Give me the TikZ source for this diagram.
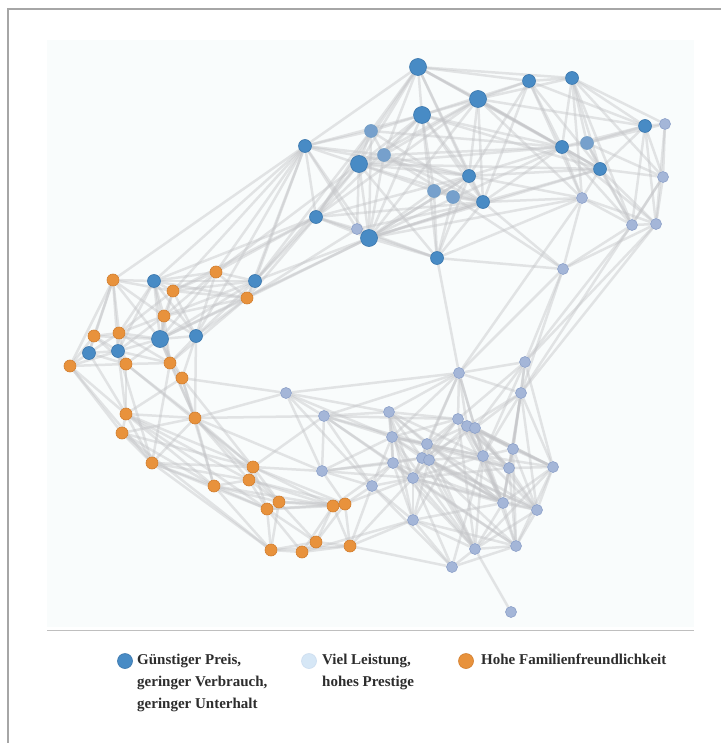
\documentclass[tikz,border=0pt]{standalone}
\usepackage{fontspec}
\setmainfont{Liberation Serif}
\pgfdeclarelayer{bg}
\pgfdeclarelayer{edges}
\pgfsetlayers{bg,edges,main}
\definecolor{cheap}{RGB}{72,139,197}
\definecolor{cheapdark}{RGB}{58,118,172}
\definecolor{mixed}{RGB}{118,160,204}
\definecolor{power}{RGB}{164,182,216}
\definecolor{powerdark}{RGB}{140,160,200}
\definecolor{powerpale}{RGB}{214,231,246}
\definecolor{family}{RGB}{232,146,60}
\definecolor{familydark}{RGB}{210,125,45}
\definecolor{linkgray}{RGB}{196,197,200}
\definecolor{canvas}{RGB}{249,252,252}
\definecolor{legendtext}{RGB}{45,45,45}

\begin{document}
\begin{tikzpicture}[x=1pt, y=-1pt,
  dot/.style={circle, inner sep=0pt, minimum size=13pt, line width=0.6pt},
  cheapdot/.style={dot, fill=cheap, draw=cheapdark},
  mixdot/.style={dot, fill=mixed, draw=cheapdark!70},
  powerdot/.style={dot, fill=power, draw=powerdark, minimum size=11pt},
  familydot/.style={dot, fill=family, draw=familydark, minimum size=12pt},
  bigdot/.style={minimum size=17pt},
  link/.style={draw=linkgray, line width=2.5pt, opacity=0.45},
  legtext/.style={anchor=north west, align=left, inner sep=0pt, text=legendtext,
    font=\fontsize{15}{22}\selectfont\bfseries}]
\useasboundingbox (0,0) rectangle (721,743);
\begin{pgfonlayer}{bg}
\fill[white] (0,0) rectangle (721,743);
\draw[black!35, line width=1.5pt] (721,9) -- (8,9) -- (8,743); % outer frame
\fill[canvas] (47,40) rectangle (694,627);
\draw[black!25, line width=1pt] (47,630) -- (694,630);
\end{pgfonlayer}

% top cluster
\node[cheapdot, bigdot] (t1) at (418,67) {};
\node[cheapdot] (t2) at (529,81) {};
\node[cheapdot] (t3) at (572,78) {};
\node[cheapdot, bigdot] (t4) at (478,99) {};
\node[cheapdot, bigdot] (t5) at (422,115) {};
\node[mixdot] (t6) at (371,131) {};
\node[cheapdot] (t7) at (305,146) {};
\node[cheapdot, bigdot] (t8) at (359,164) {};
\node[mixdot] (t9) at (384,155) {};
\node[cheapdot] (t10) at (469,176) {};
\node[mixdot] (t11) at (434,191) {};
\node[mixdot] (t12) at (453,197) {};
\node[cheapdot] (t13) at (483,202) {};
\node[cheapdot] (t14) at (316,217) {};
\node[powerdot] (t15) at (357,229) {};
\node[cheapdot, bigdot] (t16) at (369,238) {};
\node[cheapdot] (t17) at (437,258) {};
\node[cheapdot] (t18) at (645,126) {};
\node[powerdot] (t19) at (665,124) {};
\node[cheapdot] (t20) at (562,147) {};
\node[mixdot] (t21) at (587,143) {};
\node[cheapdot] (t22) at (600,169) {};
\node[powerdot] (t23) at (663,177) {};
\node[powerdot] (t24) at (582,198) {};
\node[powerdot] (t25) at (632,225) {};
\node[powerdot] (t26) at (656,224) {};
\node[powerdot] (t27) at (563,269) {};

% left cluster
\node[familydot] (l1) at (113,280) {};
\node[cheapdot] (l2) at (154,281) {};
\node[familydot] (l3) at (216,272) {};
\node[cheapdot] (l4) at (255,281) {};
\node[familydot] (l5) at (173,291) {};
\node[familydot] (l6) at (247,298) {};
\node[familydot] (l7) at (164,316) {};
\node[familydot] (l8) at (94,336) {};
\node[familydot] (l9) at (119,333) {};
\node[cheapdot, bigdot] (l10) at (160,339) {};
\node[cheapdot] (l11) at (196,336) {};
\node[cheapdot] (l12) at (89,353) {};
\node[cheapdot] (l13) at (118,351) {};
\node[familydot] (l14) at (70,366) {};
\node[familydot] (l15) at (126,364) {};
\node[familydot] (l16) at (170,363) {};
\node[familydot] (l17) at (182,378) {};

% bottom left, orange
\node[familydot] (o1) at (126,414) {};
\node[familydot] (o2) at (195,418) {};
\node[familydot] (o3) at (122,433) {};
\node[familydot] (o4) at (152,463) {};
\node[familydot] (o5) at (253,467) {};
\node[familydot] (o6) at (249,480) {};
\node[familydot] (o7) at (214,486) {};
\node[familydot] (o8) at (279,502) {};
\node[familydot] (o9) at (267,509) {};
\node[familydot] (o10) at (333,506) {};
\node[familydot] (o11) at (345,504) {};
\node[familydot] (o12) at (271,550) {};
\node[familydot] (o13) at (302,552) {};
\node[familydot] (o14) at (316,542) {};
\node[familydot] (o15) at (350,546) {};

% bottom right
\node[powerdot] (r1) at (286,393) {};
\node[powerdot] (r2) at (324,416) {};
\node[powerdot] (r3) at (322,471) {};
\node[powerdot] (r4) at (372,486) {};
\node[powerdot] (r5) at (459,373) {};
\node[powerdot] (r6) at (525,362) {};
\node[powerdot] (r7) at (521,393) {};
\node[powerdot] (r8) at (389,412) {};
\node[powerdot] (r9) at (458,419) {};
\node[powerdot] (r10) at (467,426) {};
\node[powerdot] (r11) at (475,428) {};
\node[powerdot] (r12) at (392,437) {};
\node[powerdot] (r13) at (427,444) {};
\node[powerdot] (r14) at (422,458) {};
\node[powerdot] (r15) at (429,460) {};
\node[powerdot] (r16) at (483,456) {};
\node[powerdot] (r17) at (513,449) {};
\node[powerdot] (r18) at (509,468) {};
\node[powerdot] (r19) at (393,463) {};
\node[powerdot] (r20) at (413,478) {};
\node[powerdot] (r21) at (553,467) {};
\node[powerdot] (r22) at (503,503) {};
\node[powerdot] (r23) at (537,510) {};
\node[powerdot] (r24) at (413,520) {};
\node[powerdot] (r25) at (475,549) {};
\node[powerdot] (r26) at (516,546) {};
\node[powerdot] (r27) at (452,567) {};
\node[powerdot] (r28) at (511,612) {};

\begin{pgfonlayer}{edges}
% top cluster links
\foreach \a/\b in {t1/t2, t1/t3, t1/t5, t1/t4, t1/t7, t1/t6, t1/t8, t1/t9, t1/t10, t1/t13, t1/t14,
  t2/t3, t2/t4, t2/t5, t2/t20, t2/t18, t2/t10, t2/t13, t2/t22,
  t3/t18, t3/t20, t3/t21, t3/t22, t3/t4, t3/t24, t3/t19,
  t4/t5, t4/t8, t4/t9, t4/t10, t4/t13, t4/t20, t4/t18, t4/t16, t4/t14,
  t5/t6, t5/t7, t5/t8, t5/t9, t5/t10, t5/t11, t5/t13, t5/t16, t5/t17, t5/t14,
  t6/t7, t6/t8, t6/t9, t6/t16, t6/t14, t6/t13,
  t7/t8, t7/t14, t7/t16, t7/t9, t7/t15,
  t8/t9, t8/t10, t8/t13, t8/t14, t8/t16, t8/t17, t8/t11, t8/t15,
  t9/t10, t9/t16, t9/t12,
  t10/t13, t10/t11, t10/t12, t10/t17, t10/t20, t10/t16, t10/t22,
  t11/t12, t11/t17, t11/t13, t11/t16, t12/t13, t12/t17,
  t13/t17, t13/t16, t13/t20, t13/t22, t13/t24,
  t14/t15, t14/t16, t14/t17, t15/t16, t15/t17, t16/t17, t16/t20, t16/t22,
  t17/t27, t18/t19, t18/t20, t18/t21, t18/t22, t18/t23, t18/t25, t18/t26,
  t19/t23, t19/t26, t19/t21, t20/t21, t20/t22, t20/t24, t20/t25,
  t21/t22, t21/t23, t22/t23, t22/t24, t22/t25, t22/t26,
  t23/t25, t23/t26, t24/t25, t24/t27, t24/t26, t25/t26, t25/t27, t26/t27,
  t1/t20, t1/t22, t5/t20, t5/t22, t4/t22, t4/t24, t8/t20, t8/t22, t6/t20, t9/t20,
  t9/t13, t14/t13, t14/t10, t16/t13, t16/t10, t16/t24, t15/t13, t2/t24, t3/t23,
  t3/t25, t20/t26, t21/t25, t10/t24, t13/t27, t12/t27, t17/t24, t7/t10}
  \draw[link] (\a) -- (\b);
% between top and left cluster
\foreach \a/\b in {l2/t7, l4/t7, l4/t14, l4/t16, l3/t7, l6/t14, l6/t16, l2/t14, l4/t8,
  l3/t14, l6/t7, l11/t7, l5/t14, l10/t16, l4/t6, l3/t8, l5/t7, l1/t7, l6/t15}
  \draw[link] (\a) -- (\b);
% between top and bottom cluster
\foreach \a/\b in {t17/r5, t27/r6, t27/r7, t26/r6, t25/r6, t24/r5, t27/r5, t26/r7, t23/r7}
  \draw[link] (\a) -- (\b);
% left cluster links
\foreach \a/\b in {l1/l2, l1/l8, l1/l9, l1/l12, l1/l14, l1/l5, l1/l7, l1/l13,
  l2/l3, l2/l5, l2/l4, l2/l7, l2/l10, l2/l11, l2/l9, l2/l13,
  l3/l4, l3/l5, l3/l6, l3/l7, l3/l11, l4/l6, l4/l5, l4/l7, l4/l10, l4/l11,
  l5/l6, l5/l7, l5/l10, l5/l11, l5/l9, l6/l7, l6/l11, l6/l10, l6/l16,
  l7/l10, l7/l9, l7/l11, l7/l16, l7/l13, l8/l9, l8/l12, l8/l13, l8/l14, l8/l10,
  l9/l10, l9/l13, l9/l15, l9/l12, l10/l11, l10/l13, l10/l15, l10/l16, l10/l17,
  l11/l16, l11/l17, l12/l13, l12/l14, l12/l15, l13/l15, l13/l16, l13/l14,
  l14/l15, l14/o1, l14/o3, l14/o4, l15/l16, l15/o1, l15/o2, l16/l17, l16/o2,
  l17/o2, l17/o1, l17/o5, l17/o7, l17/r1, l12/o1, l13/o1, l10/o2, l13/o4,
  l15/o5, l11/o2, l16/o4, l1/l10, l2/l6, l3/l10, l2/l16, l9/l16, l8/l15}
  \draw[link] (\a) -- (\b);
% orange links
\foreach \a/\b in {o1/o2, o1/o3, o1/o4, o1/o5, o1/o7, o2/o3, o2/o4, o2/o5, o2/o6,
  o2/r1, o2/r2, o2/o7, o3/o4, o3/o7, o3/o12, o4/o5, o4/o7, o4/o9, o4/o12,
  o5/o6, o5/o8, o5/o9, o5/r2, o5/r3, o5/o10, o6/o7, o6/o8, o6/o9, o6/o11,
  o7/o9, o7/o12, o7/o8, o8/o9, o8/o10, o8/o11, o8/o14, o8/o12,
  o9/o12, o9/o13, o9/o10, o10/o11, o10/o14, o10/o15, o10/o13,
  o11/o15, o11/r4, o11/o14, o12/o13, o12/o14, o13/o14, o13/o15, o14/o15,
  o15/r24, o15/r4, o11/r3, o11/r20, o15/r27, o10/r19, o15/r20, o13/r24,
  o1/o6, o3/o5, o4/o6, o7/o10, o9/o11, o9/o14, o12/o15, o5/o11, o6/o10,
  o2/o8, o2/r3, o1/o9}
  \draw[link] (\a) -- (\b);
% bottom right links
\foreach \a/\b in {r1/r2, r1/r5, r1/r8, r1/r3, r2/r3, r2/r8, r2/r12, r2/r4, r2/r5, r2/r19,
  r3/r4, r3/r12, r3/r19, r3/r20, r4/r12, r4/r20, r4/r19,
  r5/r6, r5/r7, r5/r9, r5/r10, r5/r8, r5/r13, r5/r16, r5/r11,
  r6/r7, r6/r11, r6/r9, r7/r11, r7/r16, r7/r17, r7/r10,
  r8/r9, r8/r12, r8/r13, r8/r14, r8/r19, r8/r20,
  r9/r10, r9/r11, r9/r13, r9/r16, r9/r14, r9/r22, r9/r12, r9/r20,
  r10/r11, r10/r13, r10/r16, r10/r17, r10/r18, r10/r15, r10/r24,
  r11/r16, r11/r17, r11/r21, r11/r18, r11/r14,
  r12/r13, r12/r14, r12/r19, r12/r20, r12/r16, r12/r22,
  r13/r14, r13/r15, r13/r16, r13/r20, r13/r18, r13/r25,
  r14/r15, r14/r19, r14/r20, r14/r22, r14/r25, r14/r26,
  r15/r16, r15/r20, r15/r23, r15/r24,
  r16/r17, r16/r18, r16/r21, r16/r22, r16/r23, r16/r20, r16/r25,
  r17/r18, r17/r21, r17/r23, r18/r21, r18/r22, r18/r23, r18/r26, r18/r20,
  r19/r20, r19/r24, r19/r25, r20/r22, r20/r24, r20/r25, r20/r27,
  r21/r22, r21/r23, r21/r26, r22/r23, r22/r25, r22/r26, r22/r24,
  r23/r26, r23/r25, r24/r25, r24/r27, r25/r26, r25/r27, r25/r28, r26/r27,
  r6/r17, r6/r21, r7/r21, r7/r18, r2/r13, r3/r14, r4/r24, r4/r27, r1/r12,
  r8/r16, r8/r22, r12/r18, r12/r25, r19/r22, r19/r26, r13/r22, r13/r23,
  r14/r23, r15/r22, r15/r25, r9/r18, r9/r21, r10/r21, r10/r22, r11/r22,
  r11/r23, r17/r22, r17/r26, r16/r26, r16/r27, r20/r23, r20/r26, r21/r25,
  r24/r26, r8/r24, r9/r25, r5/r12, r5/r14, r6/r16, r7/r22, r7/r23, r2/r9,
  r2/r20, r1/r4}
  \draw[link] (\a) -- (\b);
\end{pgfonlayer}

% legend
\node[cheapdot, minimum size=15pt] (k1) at (125,661) {};
\node[dot, fill=powerpale, draw=powerpale!80!power, minimum size=15pt] (k2) at (309,661) {};
\node[familydot, minimum size=15pt] (k3) at (466,661) {};
\node[legtext] (k1text) at (137,654) {Günstiger Preis,\\geringer Verbrauch,\\geringer Unterhalt};
\node[legtext] (k2text) at (322,654) {Viel Leistung,\\hohes Prestige};
\node[legtext] (k3text) at (481,654) {Hohe Familienfreundlichkeit};
\end{tikzpicture}
\end{document}
